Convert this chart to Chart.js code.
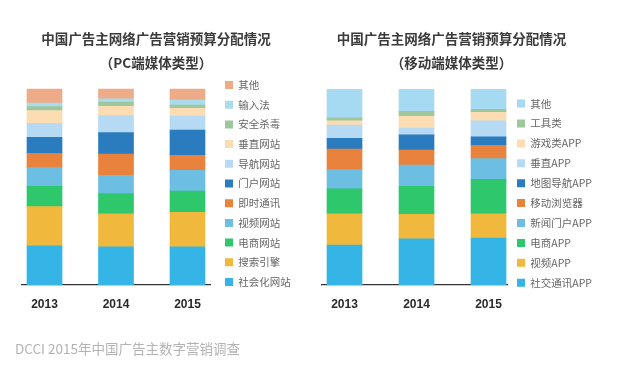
<!DOCTYPE html>
<html>
<head>
<meta charset="utf-8">
<script src="https://cdn.jsdelivr.net/npm/chart.js@4/dist/chart.umd.min.js"></script>
<style>
  html, body { margin: 0; padding: 0; background: #ffffff; }
  #wrap { position: relative; width: 640px; height: 376px; overflow: hidden; background: #fff; }
  canvas { position: absolute; top: 0; }
  #src { position: absolute; left: 15px; top: 338px; font: 13.5px "Noto Sans CJK SC", "Open Sans", sans-serif; color: #b3b3b3; white-space: nowrap; }
</style>
</head>
<body>
<div id="wrap">
  <canvas id="c1"></canvas>
  <canvas id="c2"></canvas>
  <div id="src">DCCI 2015年中国广告主数字营销调查</div>
</div>
<script>
// ---- data (bottom segment first) ----
const years = ['2013', '2014', '2015'];

const pcTitle = ['中国广告主网络广告营销预算分配情况', '（PC端媒体类型）'];
const pcLabels = ['社会化网站', '搜索引擎', '电商网站', '视频网站', '即时通讯', '门户网站', '导航网站', '垂直网站', '安全杀毒', '输入法', '其他'];
const pc2013 = [20.0, 20.0, 10.3, 9.6, 7.2, 8.2, 7.2, 6.5, 2.1, 1.7, 7.2];
const pc2014 = [19.5, 16.8, 10.3, 9.4, 10.8, 11.0, 8.6, 4.8, 2.1, 1.7, 5.0];
const pc2015 = [19.5, 17.6, 10.8, 10.6, 7.7, 12.8, 7.2, 3.9, 1.7, 2.6, 5.6];
const pcColors = ['#34b5e5', '#f0b83c', '#2ec76c', '#6cbfe2', '#e8823c', '#2a7cbf', '#b6d9f4', '#fcdcb3', '#9ec79c', '#a9dcef', '#eeab88'];

const mobTitle = ['中国广告主网络广告营销预算分配情况', '（移动端媒体类型）'];
const mobLabels = ['社交通讯APP', '视频APP', '电商APP', '新闻门户APP', '移动浏览器', '地图导航APP', '垂直APP', '游戏类APP', '工具类', '其他'];
const mob2013 = [20.4, 15.9, 12.8, 9.8, 10.4, 5.5, 6.8, 2.2, 1.5, 14.7];
const mob2014 = [23.5, 12.5, 14.4, 10.8, 7.7, 7.7, 3.4, 6.0, 2.6, 11.4];
const mob2015 = [24.0, 12.3, 17.6, 10.6, 6.8, 4.3, 8.2, 4.3, 1.5, 10.4];
const mobColors = ['#34b5e5', '#f0b83c', '#2ec76c', '#6cbfe2', '#e8823c', '#2a7cbf', '#b6d9f4', '#fcdcb3', '#9ec79c', '#a6d9f2'];

const CJK = '"Noto Sans CJK SC", "Liberation Sans", sans-serif';
Chart.defaults.font.family = CJK;
Chart.defaults.animation = false;

const LEG_FONT = 10.5, LEG_BOX = 8;
const measure = document.createElement('canvas').getContext('2d');
function textW(t) { measure.font = LEG_FONT + 'px ' + CJK; return measure.measureText(t).width; }

// L: layout options (canvas placement, chart-area edges, legend box x, title centre, legend first row)
function makeChart(canvasId, cfg, L) {
  const pad = L.legendPad;
  const legendW = pad + LEG_BOX + LEG_FONT / 2 + Math.max(...cfg.labels.map(textW)) + 10;
  const gapR = Math.max(0, L.boxX - pad - L.chartRight);   // right spacer width
  const legendRight = L.boxX - pad + legendW;
  const padLeftAbs = 2 * L.titleCenter - legendRight;      // keeps title centred where wanted
  const gapL = Math.max(0, L.chartLeft - padLeftAbs);       // left spacer width
  const canvasLeft = Math.min(L.canvasLeft, Math.floor(padLeftAbs));
  const cv = document.getElementById(canvasId);
  cv.width = L.canvasRight - canvasLeft; cv.height = 376; cv.style.left = canvasLeft + 'px';
  const legendTitleH = L.firstRow - LEG_FONT / 2 - pad;

  const cols = [cfg.v2013, cfg.v2014, cfg.v2015];
  const datasets = cfg.labels.map((name, k) => ({
    label: name,
    data: cols.map((col, i) => ({ x: i, y: col[k] })),
    backgroundColor: cfg.colors[k],
    borderWidth: 0,
    barThickness: 35
  }));
  const spacer = (pos, w) => ({
    display: false, position: pos,
    afterFit: s => { s.width = w; }
  });
  return new Chart(cv, {
    type: 'bar',
    data: { datasets },
    options: {
      responsive: false,
      layout: { padding: { left: padLeftAbs - canvasLeft, right: L.canvasRight - legendRight, top: 0, bottom: 52.6 } },
      plugins: {
        tooltip: { enabled: false },
        title: {
          display: true,
          text: cfg.title,
          color: '#3a3a3a',
          font: { size: 13.5, weight: 'bold', family: CJK, lineHeight: '24px' },
          padding: { top: 27, bottom: L.titleBottom }
        },
        legend: {
          position: 'right',
          align: 'start',
          reverse: true,
          title: { display: true, text: ' ', font: { size: 8, lineHeight: '8px' }, padding: { top: legendTitleH - 8, bottom: 0 } },
          labels: {
            boxWidth: LEG_BOX,
            boxHeight: LEG_BOX,
            padding: pad,
            color: '#666666',
            font: { size: LEG_FONT, family: CJK }
          }
        }
      },
      scales: {
        x: {
          type: 'linear',
          stacked: true,
          offset: false,
          min: L.xmin,
          max: L.xmax,
          afterBuildTicks: s => { s.ticks = years.map((_, i) => ({ value: i })); },
          grid: { display: false, drawTicks: false, tickLength: 0 },
          border: { display: true, color: '#333333', width: 1.3 },
          ticks: {
            padding: 12,
            maxRotation: 0,
            autoSkip: false,
            color: '#2a2a2a',
            font: { size: 12, weight: 'bold', family: '"Liberation Sans", Arial, sans-serif' },
            callback: v => years[v] !== undefined ? years[v] : ''
          }
        },
        y: Object.assign({ stacked: true, min: 0, max: L.ymax }, spacer('right', gapR)),
        yL: Object.assign({ min: 0, max: 1 }, spacer('left', gapL))
      }
    }
  });
}

makeChart('c1',
  { labels: pcLabels, colors: pcColors, v2013: pc2013, v2014: pc2014, v2015: pc2015, title: pcTitle },
  { canvasLeft: 0, canvasRight: 320, chartLeft: 22, chartRight: 210, boxX: 225, legendPad: 9.2, titleCenter: 156,
    firstRow: 85, titleBottom: 8, xmin: -0.315, xmax: 2.315, ymax: 103.08 });

makeChart('c2',
  { labels: mobLabels, colors: mobColors, v2013: mob2013, v2014: mob2014, v2015: mob2015, title: mobTitle },
  { canvasLeft: 320, canvasRight: 640, chartLeft: 322, chartRight: 507.6, boxX: 517, legendPad: 9.4, titleCenter: 451.5,
    firstRow: 103.6, titleBottom: 14, xmin: -0.3125, xmax: 2.265, ymax: 100 });
</script>
</body>
</html>
